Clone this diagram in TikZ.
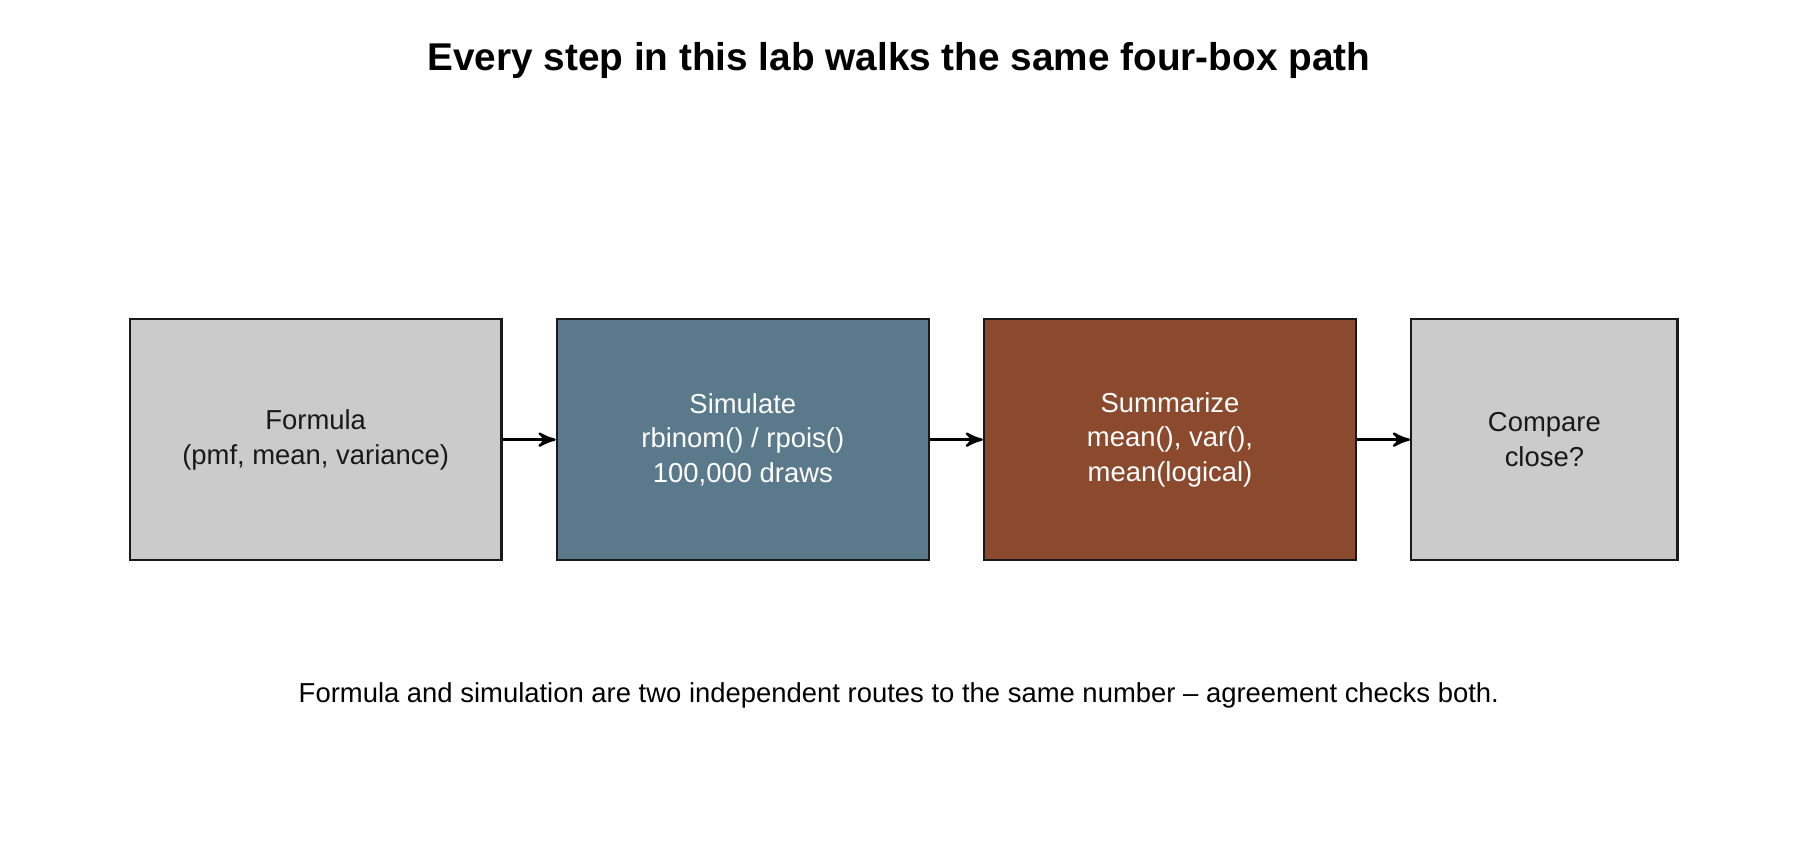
\documentclass[tikz,border=0pt]{standalone}
\usepackage{fontspec}
\setmainfont{Liberation Sans}
\usetikzlibrary{arrows,positioning}
\definecolor{boxgrey}{HTML}{CBCBCB}
\definecolor{simblue}{HTML}{5A7A8C}
\definecolor{sumbrown}{HTML}{8B4A2D}
\begin{document}
\begin{tikzpicture}[->,>=stealth',semithick,node distance=0.46cm]
  \tikzstyle{every node}=[font=\fontsize{6.8}{8.6}\selectfont]
  \tikzstyle{stage}=[draw=black!90,line width=0.6pt,minimum height=2.1cm,
                    minimum width=3.24cm,inner sep=0pt,align=center,text=black!90]
  \useasboundingbox (0,0) rectangle (15.68,7.40);

  \node[stage,fill=boxgrey] (F) at (2.75,3.57) {Formula\\(pmf, mean, variance)};
  \node[stage,fill=simblue,text=white] (S) [right=of F] {Simulate\\rbinom() / rpois()\\100,000 draws};
  \node[stage,fill=sumbrown,text=white] (M) [right=of S] {Summarize\\mean(), var(),\\mean(logical)};
  \node[stage,fill=boxgrey,minimum width=2.32cm] (C) [right=of M] {Compare\\close?};

  \node[font=\fontsize{9.6}{11}\selectfont\bfseries] (T) at (7.83,6.87)
    {Every step in this lab walks the same four-box path};
  \node (N) at (7.83,1.34)
    {Formula and simulation are two independent routes to the same number -- agreement checks both.};

  \path (F) edge (S)
        (S) edge (M)
        (M) edge (C);
\end{tikzpicture}
\end{document}
